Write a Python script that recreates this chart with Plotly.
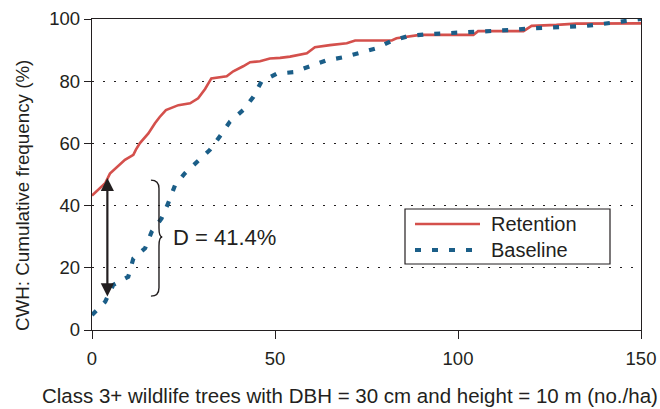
import plotly.graph_objects as go

# Retention (red) empirical cumulative curve
ret_x = [0, 1.5, 3.6, 4.9, 7, 9, 11.3, 12, 13.1, 15.4, 17.2, 18.5, 20.2, 23.6, 26.8, 29, 30.9,
         32.6, 36.8, 38.6, 41.3, 43.2, 45.9, 48.6, 51.4, 54.1, 58.7, 60.9, 65, 69.6, 71.9, 81.9,
         83.2, 88.3, 89.6, 104.2, 105.5, 117.9, 120.1, 126.9, 132.3, 150]
ret_y = [43.2, 45, 47.2, 50.3, 52.5, 54.7, 56.3, 58, 60.1, 63.2, 66.5, 68.5, 70.7, 72.3, 72.9, 74.5, 77.5,
         80.9, 81.6, 83.2, 84.8, 86.1, 86.4, 87.3, 87.5, 87.9, 89, 90.9, 91.6, 92.2, 93.1, 93.1,
         93.8, 94.5, 94.9, 94.9, 96.1, 96.1, 97.8, 98.1, 98.5, 98.6]

# Baseline (blue dotted) empirical cumulative curve
base_x = [0, 3.6, 5.8, 9.9, 11.3, 14.5, 16.3, 19, 20.8, 22.7, 25.4, 28.6, 32.2, 35, 37.7, 41.3, 44.1,
          46.3, 50.4, 55, 59.6, 64.1, 68.7, 73.2, 77.8, 81.9, 86.4, 91.4, 96, 101, 105.5, 110.1,
          115.1, 119.7, 124.7, 129.3, 134.3, 138.8, 143.4, 148.4, 150]
base_y = [4.8, 9.1, 14.5, 17.1, 23, 26.3, 31.6, 35.9, 40.7, 46.6, 50.4, 54.1, 57.9, 62.4, 67, 70.7, 75,
          79.9, 82.4, 82.9, 85, 86.7, 87.7, 89.1, 90.6, 93, 94.5, 95.1, 95.4, 95.6, 95.7, 96.1,
          96.5, 97, 97.2, 97.2, 97.7, 98.3, 99.1, 99.9, 100]

x_ticks = [0, 50, 100, 150]
y_ticks = [0, 20, 40, 60, 80, 100]

x_title = "Class 3+ wildlife trees with DBH = 30 cm and height = 10 m (no./ha)"
y_title = "CWH: Cumulative frequency (%)"

# D statistic annotation
d_x = 4.2
d_top = 48.9
d_bottom = 10.3
d_label = "D = 41.4%"

RED = "#d4504c"
BLUE = "#1b5e88"
INK = "#231f20"
FONT = "Liberation Sans, Arial, sans-serif"

# plot-area geometry in pixels (for paper-coordinate placement)
L, R, T, B = 92, 641, 19, 330
W, H = R - L, B - T


def px(xp):
    return (xp - L) / W


def py(yp):
    return (B - yp) / H


fig = go.Figure()
fig.add_trace(go.Scatter(x=ret_x, y=ret_y, mode="lines", name="Retention",
                         line=dict(color=RED, width=2.6), showlegend=False))
fig.add_trace(go.Scatter(x=base_x, y=base_y, mode="lines", name="Baseline",
                         line=dict(color=BLUE, width=4.2, dash="6px,11px"), showlegend=False))

# double-headed arrow
fig.add_annotation(x=d_x, y=d_top, ax=d_x, ay=d_bottom, xref="x", yref="y", axref="x", ayref="y",
                   text="", showarrow=True, arrowhead=2, startarrowhead=2, arrowside="end+start",
                   arrowwidth=2.2, arrowsize=1.2, startarrowsize=1.2, arrowcolor=INK)

# brace
fig.add_shape(type="path", xref="x", yref="y",
              path="M 16.1,48.2 Q 18.3,48.2 18.3,45.5 L 18.3,32.8 Q 18.3,29.9 19.2,29.9 "
                   "Q 18.3,29.9 18.3,27 L 18.3,13.6 Q 18.3,10.9 16.1,10.9",
              line=dict(color=INK, width=1.4))
fig.add_annotation(x=21.6, y=29.9, xref="x", yref="y", text=d_label, showarrow=False,
                   xanchor="left", yanchor="middle", font=dict(size=22, color=INK, family=FONT))

# manual legend box
fig.add_shape(type="rect", xref="paper", yref="paper",
              x0=px(405), x1=px(610), y0=py(264), y1=py(209),
              line=dict(color=INK, width=1.2), fillcolor="white", layer="above")
for name, col, w, dash, yp in [("Retention", RED, 2.6, "solid", 224),
                               ("Baseline", BLUE, 4.2, "6px,11px", 250)]:
    fig.add_shape(type="line", xref="paper", yref="paper",
                  x0=px(415), x1=px(480), y0=py(yp), y1=py(yp),
                  line=dict(color=col, width=w, dash=dash), layer="above")
    fig.add_annotation(x=px(489), y=py(yp), xref="paper", yref="paper", text=name,
                       showarrow=False, xanchor="left", yanchor="middle",
                       font=dict(size=20, color=INK, family=FONT))

# axis titles
fig.add_annotation(x=px(350), y=py(395), xref="paper", yref="paper", text=x_title,
                   showarrow=False, xanchor="center", yanchor="middle",
                   font=dict(size=20.5, color=INK, family=FONT))
fig.add_annotation(x=px(22), y=py(196), xref="paper", yref="paper", text=y_title,
                   showarrow=False, xanchor="center", yanchor="middle", textangle=-90,
                   font=dict(size=18.8, color=INK, family=FONT))

fig.update_layout(
    width=660, height=409,
    margin=dict(l=L, r=660 - R, t=T, b=409 - B),
    paper_bgcolor="white", plot_bgcolor="white",
    font=dict(family=FONT, color=INK, size=18.5),
)
fig.update_xaxes(range=[0, 150], tickvals=x_ticks, ticks="outside", ticklen=8, tickcolor=INK,
                 showline=True, linecolor=INK, linewidth=1.4, mirror=True, showgrid=False,
                 zeroline=False, tickfont=dict(size=18.5, color=INK), automargin=False,
                 ticklabelstandoff=4)
fig.update_yaxes(range=[0, 100], tickvals=y_ticks, ticks="outside", ticklen=7, tickcolor=INK,
                 showline=True, linecolor=INK, linewidth=1.4, mirror=True,
                 showgrid=True, gridcolor=INK, gridwidth=1, griddash="2px,9px",
                 zeroline=False, tickfont=dict(size=18.5, color=INK), automargin=False)

fig.write_html("out.html")
